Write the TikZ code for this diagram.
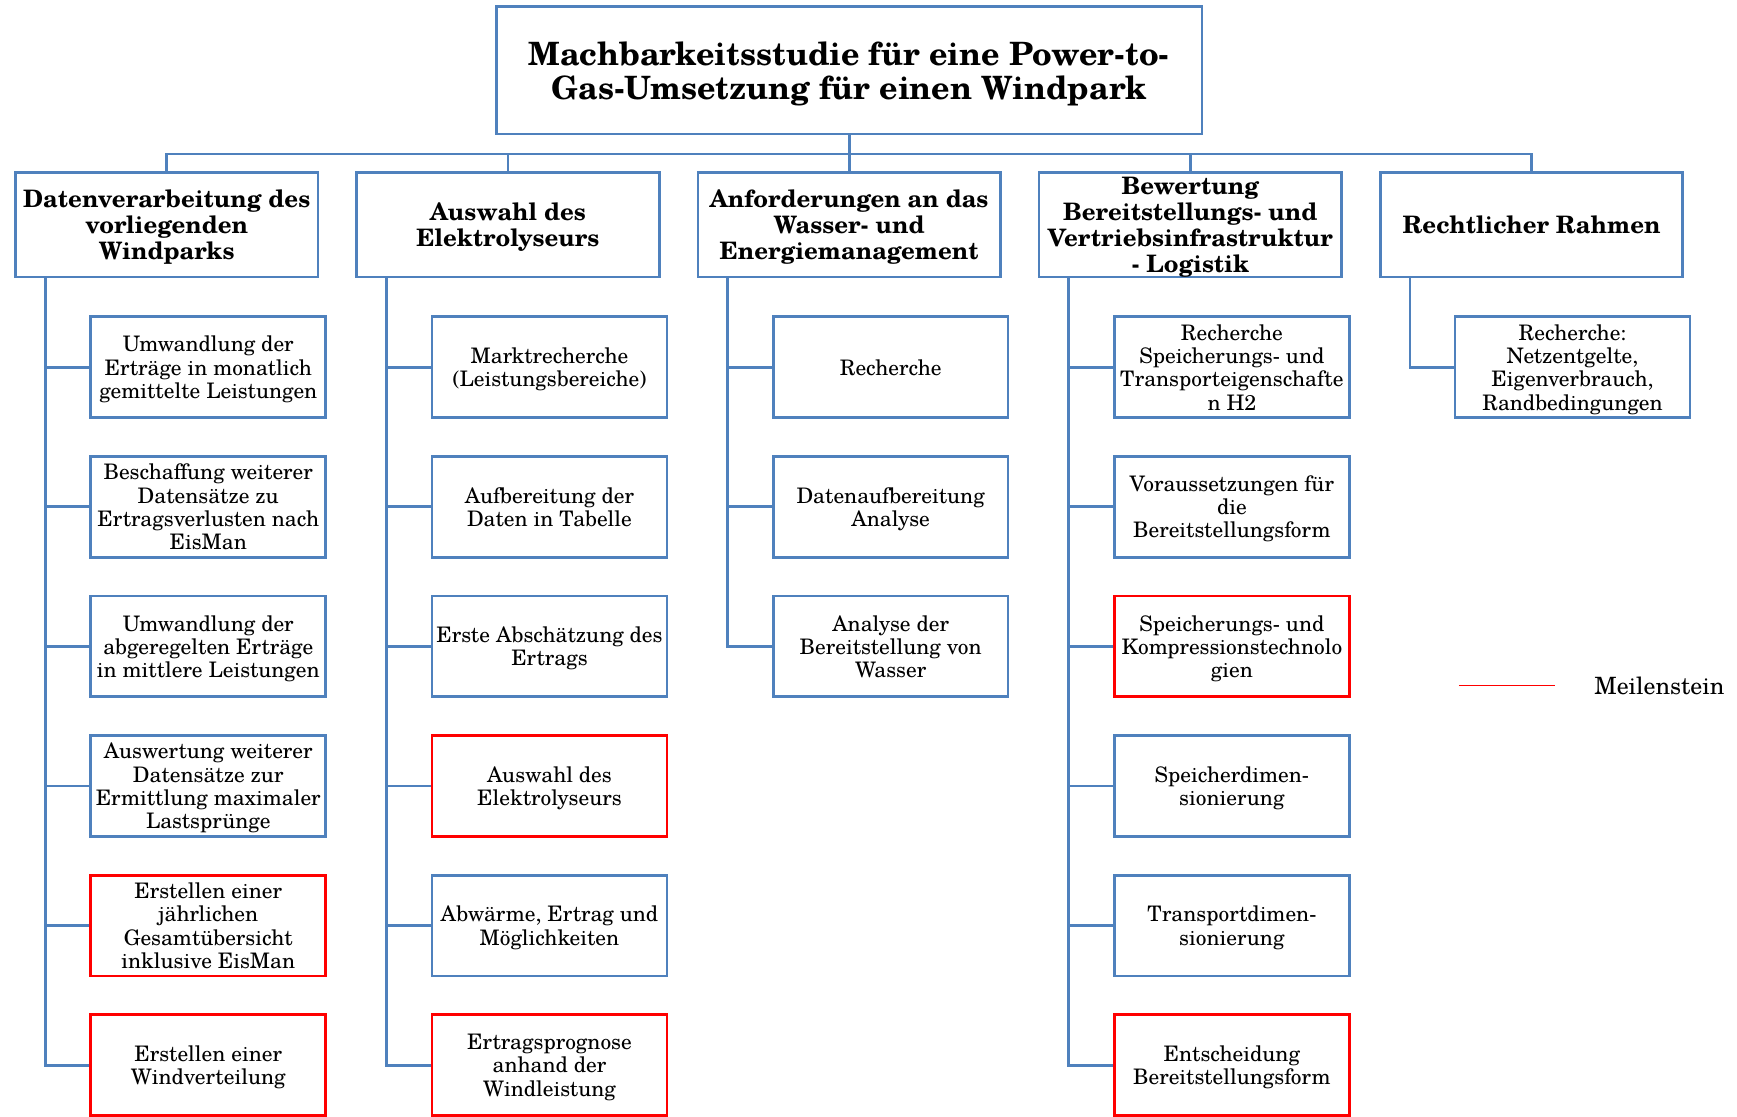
\documentclass[tikz,border=0pt]{standalone}
\usepackage{fontspec}
\setmainfont{TeX Gyre Schola}
\usetikzlibrary{positioning}
\definecolor{ablue}{RGB}{79,129,189}
\definecolor{mred}{RGB}{255,0,0}

\begin{document}
\begin{tikzpicture}[x=1pt, y=-1pt,
		box/.style={draw=ablue, line width=2.5pt, align=center, inner sep=0pt, text depth=0pt},
		titlebox/.style={box, minimum width=637pt, minimum height=115pt, font=\fontsize{29}{31}\selectfont\bfseries},
		hbox/.style={box, minimum width=273pt, minimum height=94pt, font=\fontsize{21.7}{23.5}\selectfont\bfseries},
		sbox/.style={box, minimum width=212pt, minimum height=91pt, font=\fontsize{19.3}{21}\selectfont},
		link/.style={draw=ablue, line width=2.5pt} ]
	\useasboundingbox (0,0) rectangle (1568,1008);
	\node[titlebox] (title) at (766.5,63.5) {Machbarkeitsstudie für eine Power-to-\\Gas-Umsetzung für einen Windpark};
	\coordinate (bus) at (766.5,139);
	\draw[link] (title.south) -- (bus);
	% Arbeitspakete
	\foreach \k/\txt in {1/{Datenverarbeitung des\\vorliegenden\\Windparks},
			2/{Auswahl des\\Elektrolyseurs},
			3/{Anforderungen an das\\Wasser- und\\Energiemanagement},
			4/{Bewertung\\Bereitstellungs- und\\Vertriebsinfrastruktur\\- Logistik},
			5/{Rechtlicher Rahmen}}{
		\node[hbox] (h\k) at ({150.5+308*(\k-1)},203) {\txt};
		\draw[link] (h\k.north) |- (bus);
		\coordinate (s\k) at ([xshift=28pt]h\k.south west);
	}
	% Unterpunkte
	\foreach \j/\col/\txt in {1/ablue/{Umwandlung der\\Erträge in monatlich\\gemittelte Leistungen},
			2/ablue/{Beschaffung weiterer\\Datensätze zu\\Ertragsverlusten nach\\EisMan},
			3/ablue/{Umwandlung der\\abgeregelten Erträge\\in mittlere Leistungen},
			4/ablue/{Auswertung weiterer\\Datensätze zur\\Ermittlung maximaler\\Lastsprünge},
			5/mred/{Erstellen einer\\jährlichen\\Gesamtübersicht\\inklusive EisMan},
			6/mred/{Erstellen einer\\Windverteilung}}{
		\node[sbox, draw=\col] (a\j) at (188,{331.5+126*(\j-1)}) {\txt};
		\draw[link] (s1) |- (a\j.west);
	}
	\foreach \j/\col/\txt in {1/ablue/{Marktrecherche\\(Leistungsbereiche)},
			2/ablue/{Aufbereitung der\\Daten in Tabelle},
			3/ablue/{Erste Abschätzung des\\Ertrags},
			4/mred/{Auswahl des\\Elektrolyseurs},
			5/ablue/{Abwärme, Ertrag und\\Möglichkeiten},
			6/mred/{Ertragsprognose\\anhand der\\Windleistung}}{
		\node[sbox, draw=\col] (b\j) at (496,{331.5+126*(\j-1)}) {\txt};
		\draw[link] (s2) |- (b\j.west);
	}
	\foreach \j/\txt in {1/{Recherche},
			2/{Datenaufbereitung\\Analyse},
			3/{Analyse der\\Bereitstellung von\\Wasser}}{
		\node[sbox] (c\j) at (804,{331.5+126*(\j-1)}) {\txt};
		\draw[link] (s3) |- (c\j.west);
	}
	\foreach \j/\col/\txt in {1/ablue/{Recherche\\Speicherungs- und\\Transporteigenschafte\\n H2},
			2/ablue/{Voraussetzungen für\\die\\Bereitstellungsform},
			3/mred/{Speicherungs- und\\Kompressionstechnolo\\gien},
			4/ablue/{Speicherdimen-\\sionierung},
			5/ablue/{Transportdimen-\\sionierung},
			6/mred/{Entscheidung\\Bereitstellungsform}}{
		\node[sbox, draw=\col] (d\j) at (1112,{331.5+126*(\j-1)}) {\txt};
		\draw[link] (s4) |- (d\j.west);
	}
	\node[sbox] (e1) at (1419.5,331.5) {Recherche:\\Netzentgelte,\\Eigenverbrauch,\\Randbedingungen};
	\draw[link] (s5) |- (e1.west);
	% Legende
	\coordinate (leg1) at (1317,619);
	\coordinate (leg2) at (1404,619);
	\draw[mred, line width=1.4pt] (leg1) -- (leg2);
	\node[anchor=west, font=\fontsize{21.5}{23}\selectfont, inner sep=0pt] (legtxt) at (1439,619) {Meilenstein};
\end{tikzpicture}
\end{document}
